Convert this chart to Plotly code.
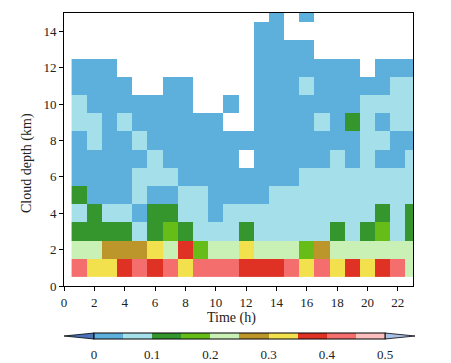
import plotly.graph_objects as go

# ---------------- data ----------------
hours = list(range(1, 24))          # column centres (h)
depths = list(range(1, 16))         # row centres (km)

# contour levels of the colour bar and their fill colours
levels = [0, 0.05, 0.1, 0.15, 0.2, 0.25, 0.3, 0.35, 0.4, 0.45, 0.5]
level_colors = ["#5eb0dc", "#a5e0ea", "#36962e", "#66bd17", "#c9f0b5",
                "#bc962a", "#f2e14c", "#df3224", "#f46e6e", "#fbbfbf"]
below_color = "#4a72b8"
above_color = "#a9c1e6"
cbar_ticks = [0, 0.1, 0.2, 0.3, 0.4, 0.5]
cbar_ticktext = ["0", "0.1", "0.2", "0.3", "0.4", "0.5"]

N = None
# fraction values, one row per depth (bottom row first), one value per hour
frac = [
    [0.42, 0.32, 0.32, 0.38, 0.42, 0.38, 0.42, 0.32, 0.42, 0.42, 0.42, 0.38, 0.38, 0.38, 0.42, 0.32, 0.42, 0.32, 0.38, 0.32, 0.38, 0.42, 0.22],
    [0.22, 0.22, 0.28, 0.28, 0.28, 0.32, 0.22, 0.38, 0.17, 0.22, 0.22, 0.32, 0.22, 0.22, 0.22, 0.17, 0.28, 0.22, 0.22, 0.22, 0.22, 0.22, 0.22],
    [0.12, 0.12, 0.12, 0.12, 0.08, 0.12, 0.17, 0.12, 0.08, 0.08, 0.08, 0.12, 0.08, 0.08, 0.08, 0.08, 0.08, 0.12, 0.08, 0.12, 0.17, 0.08, 0.12],
    [0.08, 0.12, 0.08, 0.08, 0.03, 0.12, 0.12, 0.08, 0.08, 0.03, 0.08, 0.08, 0.08, 0.08, 0.08, 0.08, 0.08, 0.08, 0.08, 0.08, 0.12, 0.08, 0.12],
    [0.12, 0.03, 0.03, 0.03, 0.08, 0.03, 0.03, 0.08, 0.08, 0.03, 0.03, 0.03, 0.03, 0.08, 0.08, 0.08, 0.08, 0.08, 0.08, 0.08, 0.08, 0.08, 0.08],
    [0.03, 0.03, 0.03, 0.03, 0.08, 0.08, 0.08, 0.03, 0.03, 0.03, 0.03, 0.03, 0.03, 0.03, 0.03, 0.08, 0.08, 0.08, 0.08, 0.08, 0.08, 0.08, 0.08],
    [0.03, 0.03, 0.03, 0.03, 0.03, 0.08, 0.03, 0.03, 0.03, 0.03, 0.03, N,    0.03, 0.03, 0.03, 0.03, 0.03, 0.08, 0.03, 0.08, 0.03, 0.03, 0.08],
    [0.03, 0.08, 0.03, 0.03, 0.08, 0.03, 0.03, 0.03, 0.03, 0.03, 0.03, 0.03, 0.03, 0.03, 0.03, 0.03, 0.03, 0.03, 0.03, 0.08, 0.08, 0.03, 0.03],
    [0.08, 0.08, 0.03, 0.08, 0.03, 0.03, 0.03, 0.03, 0.03, 0.03, N,    N,    0.03, 0.03, 0.03, 0.03, 0.08, 0.03, 0.12, 0.08, 0.03, 0.08, 0.08],
    [0.08, 0.03, 0.03, 0.03, 0.03, 0.03, 0.03, 0.03, N,    N,    0.03, N,    0.03, 0.03, 0.03, 0.03, 0.03, 0.03, 0.03, 0.08, 0.08, 0.08, 0.08],
    [0.03, 0.03, 0.03, 0.03, N,    N,    0.03, 0.03, N,    N,    N,    N,    0.03, 0.03, 0.03, 0.08, 0.03, 0.03, 0.03, 0.03, 0.03, 0.08, 0.08],
    [0.03, 0.03, 0.03, N,    N,    N,    N,    N,    N,    N,    N,    N,    0.03, 0.03, 0.03, 0.03, 0.03, 0.03, 0.03, N,    0.03, 0.03, 0.03],
    [N,    N,    N,    N,    N,    N,    N,    N,    N,    N,    N,    N,    0.03, 0.03, 0.03, 0.03, N,    N,    N,    N,    N,    N,    N],
    [N,    N,    N,    N,    N,    N,    N,    N,    N,    N,    N,    N,    0.03, 0.03, N,    N,    N,    N,    N,    N,    N,    N,    N],
    [N,    N,    N,    N,    N,    N,    N,    N,    N,    N,    N,    N,    N,    0.03, N,    0.03, N,    N,    N,    N,    N,    N,    N],
]

# ---------------- layout geometry ----------------
# all pixel positions below are page (screenshot) coordinates; the page body
# has an 8 px margin, so the figure itself starts at (8, 8).
OFF = 8
W, H = 451 - OFF, 363 - OFF
PL, PR, PT, PB = 64, 413, 13, 286          # plot area in page pixels
pw, ph = PR - PL, PB - PT
def px(x):
    return (x - PL) / pw
def py(y):
    return (PB - y) / ph

CB_L, CB_R, CB_T, CB_B = 94, 385, 333, 339
FONT = "Liberation Serif, Times New Roman, serif"
TXT = "#222222"

nb = len(level_colors)
zmin, zmax = levels[0], levels[-1]
colorscale = []
for i, c in enumerate(level_colors):
    colorscale.append([i / nb, c])
    colorscale.append([(i + 1) / nb, c])

fig = go.Figure()
fig.add_trace(go.Heatmap(
    x=hours, y=depths, z=frac,
    zmin=zmin, zmax=zmax, colorscale=colorscale,
    hoverongaps=False,
    colorbar=dict(
        orientation="h",
        x=px((CB_L + CB_R) / 2), xanchor="center",
        y=py(CB_T), yanchor="top", ypad=0, xpad=0,
        lenmode="pixels", len=CB_R - CB_L,
        thickness=CB_B - CB_T,
        outlinewidth=1, outlinecolor="black",
        tickvals=cbar_ticks, ticktext=cbar_ticktext,
        ticks="outside", ticklen=4, tickcolor="rgba(0,0,0,0)",
        tickfont=dict(family=FONT, size=13, color=TXT),
    ),
))

shapes = []
# segment dividers in colour bar
for v in levels:
    xv = CB_L + (v - zmin) / (zmax - zmin) * (CB_R - CB_L)
    shapes.append(dict(type="line", xref="paper", yref="paper",
                       x0=px(xv), x1=px(xv), y0=py(CB_T), y1=py(CB_B),
                       line=dict(color="black", width=1)))
# end triangles
ym = (CB_T + CB_B) / 2
shapes.append(dict(type="path", xref="paper", yref="paper",
                   path=f"M {px(CB_L)},{py(CB_T)} L {px(CB_L - 30)},{py(ym)} L {px(CB_L)},{py(CB_B)} Z",
                   fillcolor=below_color, line=dict(color="black", width=0.8)))
shapes.append(dict(type="path", xref="paper", yref="paper",
                   path=f"M {px(CB_R)},{py(CB_T)} L {px(CB_R + 30)},{py(ym)} L {px(CB_R)},{py(CB_B)} Z",
                   fillcolor=above_color, line=dict(color="black", width=0.8)))

annotations = [
    dict(text="Time (h)", xref="paper", yref="paper", x=px(231), y=py(318),
         showarrow=False, xanchor="center", yanchor="middle",
         font=dict(family=FONT, size=14, color=TXT)),
    dict(text="Cloud depth (km)", xref="paper", yref="paper", x=px(27), y=py(163),
         showarrow=False, xanchor="center", yanchor="middle", textangle=-90,
         font=dict(family=FONT, size=14, color=TXT)),
]

axis_common = dict(showgrid=False, zeroline=False, showline=True, linecolor="black",
                   linewidth=1, mirror=True, ticks="outside", ticklen=4,
                   tickcolor="black", tickwidth=1,
                   tickfont=dict(family=FONT, size=13, color=TXT))
fig.update_layout(
    width=W, height=H,
    margin=dict(l=PL - OFF, r=W - (PR - OFF), t=PT - OFF, b=H - (PB - OFF),
                pad=0, autoexpand=False),
    paper_bgcolor="white", plot_bgcolor="white",
    xaxis=dict(range=[0, 23], tickmode="linear", tick0=0, dtick=2, **axis_common),
    yaxis=dict(range=[0, 15], tickmode="linear", tick0=0, dtick=2, **axis_common),
    shapes=shapes, annotations=annotations, showlegend=False,
)
fig.write_html("out.html")
